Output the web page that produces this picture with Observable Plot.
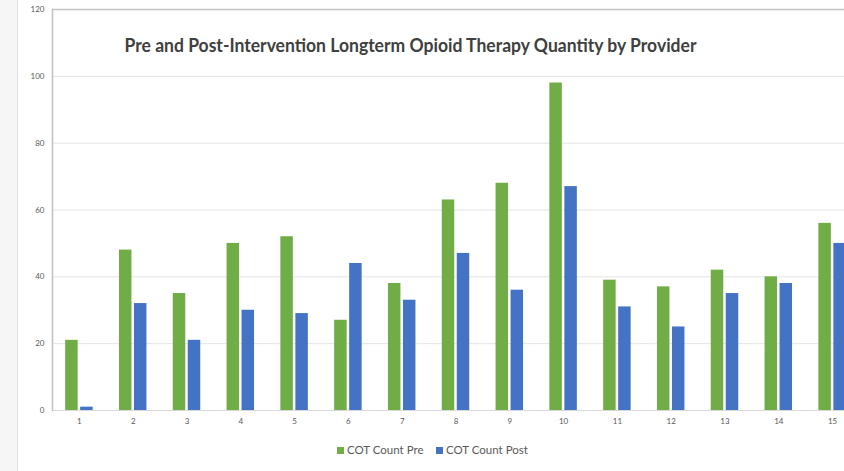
<!DOCTYPE html>
<html>
<head>
<meta charset="utf-8">
<script src="https://cdn.jsdelivr.net/npm/d3@7"></script>
<script src="https://cdn.jsdelivr.net/npm/@observablehq/plot@0.6"></script>
<style>
  html, body { margin: 0; padding: 0; background: #fff; }
  #wrap { position: relative; width: 844px; height: 471px; overflow: hidden; font-family: Lato, "Open Sans", sans-serif; }
  #side { position: absolute; left: 0; top: 0; width: 17px; height: 471px; background: #f6f6f6; border-right: 1px solid #e2e2e2; }
  #chart { position: absolute; left: 0; top: 0; }
  #legend { position: absolute; left: 0; top: 436px; width: 844px; height: 35px; }
  .item { position: absolute; top: 7px; font-size: 11.5px; color: #595959; white-space: nowrap; }
  .sw { display: inline-block; width: 7px; height: 7px; margin-right: 3px; vertical-align: 0px; }
</style>
</head>
<body>
<div id="wrap">
  <div id="side"></div>
  <div id="chart"></div>
  <div id="legend">
    <div class="item" style="left:337px"><span class="sw" style="background:#70ad47"></span>COT Count Pre</div>
    <div class="item" style="left:436px"><span class="sw" style="background:#4472c4"></span>COT Count Post</div>
  </div>
</div>
<script>
const providers = [1,2,3,4,5,6,7,8,9,10,11,12,13,14,15];
const cotPre  = [21,48,35,50,52,27,38,63,68,98,39,37,42,40,56];
const cotPost = [1,32,21,30,29,44,33,47,36,67,31,25,35,38,50];
const yTicks = [0,20,40,60,80,100,120];
const title = "Pre and Post-Intervention Longterm Opioid Therapy Quantity by Provider";

const GREEN = "#70ad47", BLUE = "#4472c4";
const preData = providers.map((p, i) => ({provider: p, value: cotPre[i]}));
const postData = providers.map((p, i) => ({provider: p, value: cotPost[i]}));

const chart = Plot.plot({
  width: 844,
  height: 436,
  marginTop: 9,
  marginBottom: 26,
  marginLeft: 52,
  marginRight: 0,
  style: {background: "transparent", fontFamily: "Lato, 'Open Sans', sans-serif", color: "#595959"},
  x: {type: "band", domain: providers, range: [52, 859], round: false, paddingInner: 0.768, paddingOuter: 0.384, axis: null, label: null},
  y: {domain: [0, 120], range: [410, 9], axis: null, label: null},
  marks: [
    Plot.gridY(yTicks.filter(d => d > 0 && d < 120), {stroke: "#e4e4e4", strokeOpacity: 1}),
    Plot.ruleY([0], {stroke: "#d9d9d9", strokeWidth: 1}),
    Plot.ruleY([120], {stroke: "#c4c4c4", strokeWidth: 1.6}),
    Plot.frame({anchor: "left", stroke: "#c4c4c4", strokeWidth: 1.6}),
    Plot.barY(preData, {x: "provider", y: "value", fill: GREEN, dx: -7.5}),
    Plot.barY(postData, {x: "provider", y: "value", fill: BLUE, dx: 7.5}),
    Plot.axisY(yTicks, {tickSize: 0, tickPadding: 8, fontSize: 8, fill: "#595959", label: null}),
    Plot.axisX(providers, {tickSize: 0, tickPadding: 8, fontSize: 8, fill: "#595959", label: null}),
    Plot.text([title], {frameAnchor: "top", dx: -38, dy: 30, fontSize: 18, fontWeight: "bold", fill: "#404040", className: "ttl"})
  ]
});
document.getElementById("chart").appendChild(chart);
const t = chart.querySelector(".ttl text");
if (t) { t.setAttribute("textLength", 572); t.setAttribute("lengthAdjust", "spacingAndGlyphs"); }
</script>
</body>
</html>
